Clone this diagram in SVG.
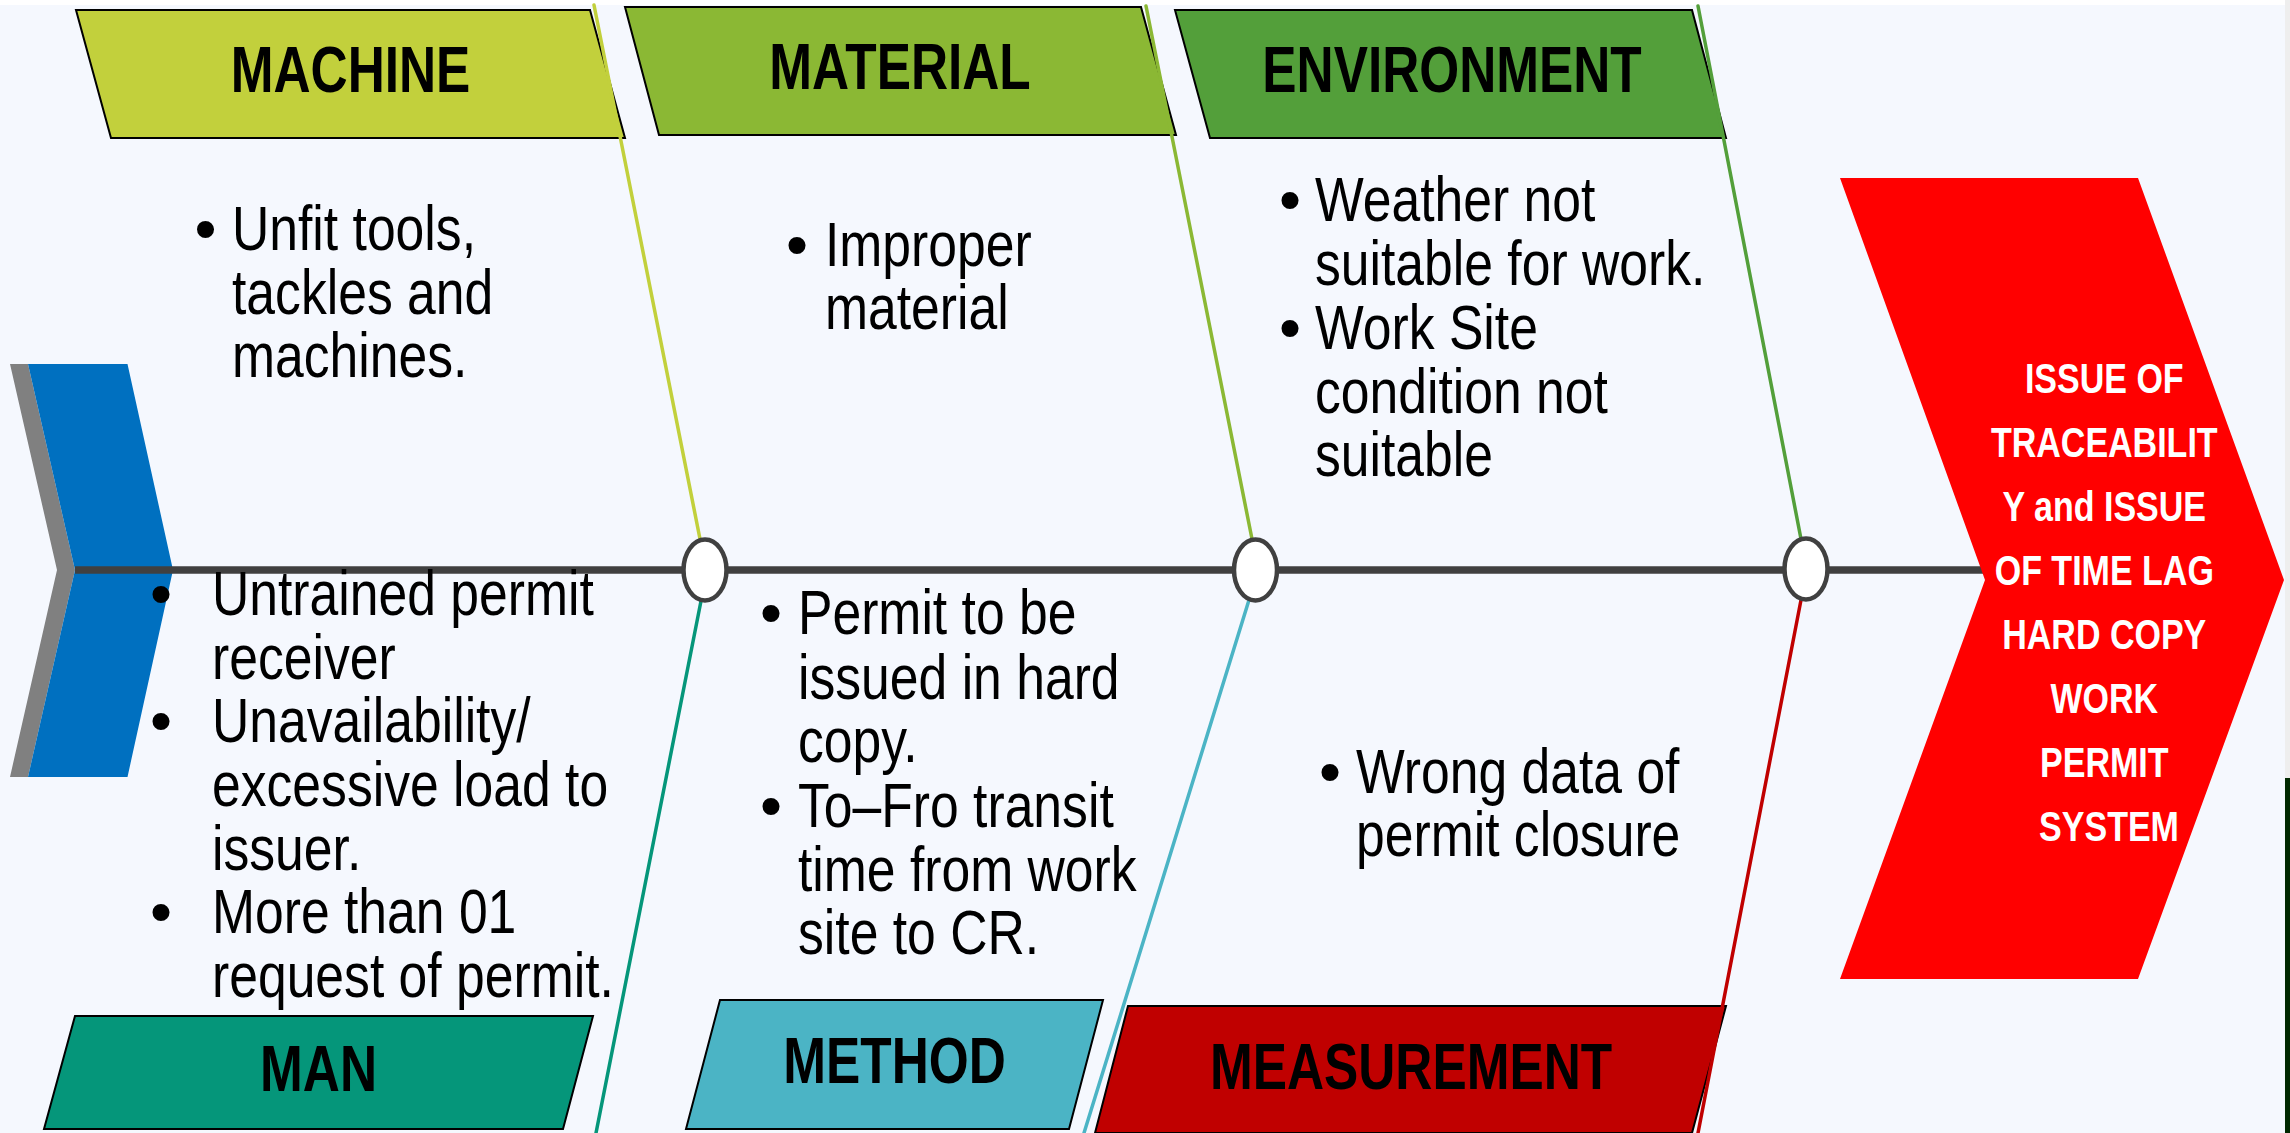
<svg xmlns="http://www.w3.org/2000/svg" width="2290" height="1133" viewBox="0 0 2290 1133">
<style>
.hdr{font-family:"Liberation Sans",Arial,sans-serif;font-weight:bold;font-size:65px;fill:#000;text-anchor:middle}
.body{font-family:"Liberation Sans",Arial,sans-serif;font-size:63px;fill:#000}
.bul{font-family:"Liberation Sans",Arial,sans-serif;font-size:63px;fill:#000;text-anchor:middle}
.eff{font-family:"Liberation Sans",Arial,sans-serif;font-weight:bold;font-size:42px;fill:#fff;text-anchor:middle}
.box{stroke:#000;stroke-width:2;stroke-linejoin:miter}
.bone{fill:none;stroke-width:3.5;stroke-linecap:round}
.joint{fill:#fff;stroke:#404040;stroke-width:4.5}
</style>
<rect x="0" y="0" width="2290" height="1133" fill="#ffffff"/>
<rect x="0" y="5" width="2285" height="1128" fill="#F5F8FE"/>
<rect x="2285" y="0" width="5" height="778" fill="#EEEEEE"/>
<rect x="2285" y="778" width="5" height="355" fill="#002800"/>

<g id="head-machine">
<polygon class="box" points="76,10 590,10 625,138 111,138" fill="#C2D03C"/>
<text class="hdr" transform="translate(350.5,0) scale(0.79,1)" x="0" y="92">MACHINE</text>
</g>
<g id="head-material">
<polygon class="box" points="625,7 1141,7 1176,135 659,135" fill="#8BB834"/>
<text class="hdr" transform="translate(900,0) scale(0.79,1)" x="0" y="89">MATERIAL</text>
</g>
<g id="head-environment">
<polygon class="box" points="1175,10 1692,10 1726,138 1210,138" fill="#539F3A"/>
<text class="hdr" transform="translate(1452,0) scale(0.79,1)" x="0" y="92">ENVIRONMENT</text>
</g>
<g id="head-man">
<polygon class="box" points="75,1016 593,1016 563,1129 44,1129" fill="#05967A"/>
<text class="hdr" transform="translate(318.5,0) scale(0.79,1)" x="0" y="1091">MAN</text>
</g>
<g id="head-method">
<polygon class="box" points="720,1000 1103,1000 1069,1129 686,1129" fill="#4BB4C5"/>
<text class="hdr" transform="translate(894.5,0) scale(0.79,1)" x="0" y="1083">METHOD</text>
</g>
<g id="head-measurement">
<polygon class="box" points="1128,1006 1726,1006 1692,1133 1095,1133" fill="#C00000"/>
<text class="hdr" transform="translate(1411,0) scale(0.79,1)" x="0" y="1089">MEASUREMENT</text>
</g>

<g id="connectors">
<line class="bone" x1="594" y1="5" x2="700" y2="539" stroke="#C2D03C"/>
<line class="bone" x1="1146" y1="6" x2="1252" y2="539" stroke="#8BB834"/>
<line class="bone" x1="1698" y1="6" x2="1801" y2="539" stroke="#539F3A"/>
<line class="bone" x1="701" y1="601" x2="596" y2="1133" stroke="#05967A"/>
<line class="bone" x1="1249" y1="600" x2="1084" y2="1133" stroke="#4BB4C5"/>
<line class="bone" x1="1801" y1="600" x2="1698" y2="1133" stroke="#C00000"/>
</g>

<g id="tail">
<polygon points="10,364 28,364 75,570 28,777 10,777 57,570" fill="#808080"/>
<polygon points="28,364 127.5,364 173,570 127.5,777 28,777 75,570" fill="#0070C0"/>
</g>

<g id="spine">
<line x1="75" y1="570" x2="1985" y2="570" stroke="#404040" stroke-width="7.5"/>
</g>

<g id="joints">
<ellipse class="joint" cx="705" cy="570" rx="21.5" ry="30.5"/>
<ellipse class="joint" cx="1255.5" cy="570" rx="21.5" ry="30.5"/>
<ellipse class="joint" cx="1806" cy="569" rx="21.5" ry="30.5"/>
</g>

<g id="effect">
<polygon points="1840,178 2138,178 2284,580 2138,979 1840,979 1985,580" fill="#FF0000"/>
<text class="eff" transform="translate(2109,0) scale(0.81,1)">
<tspan x="0" y="393">ISSUE OF</tspan>
<tspan x="0" y="457">TRACEABILIT</tspan>
<tspan x="0" y="521">Y and ISSUE</tspan>
<tspan x="0" y="585">OF TIME LAG</tspan>
<tspan x="0" y="649">HARD COPY</tspan>
<tspan x="0" y="713">WORK</tspan>
<tspan x="0" y="777">PERMIT</tspan>
<tspan x="0" y="841">SYSTEM</tspan>
</text>
</g>

<g id="causes-machine">
<text class="bul" x="205.6" y="250">•</text>
<text class="body" transform="translate(232,0) scale(0.82,1)">
<tspan x="0" y="250">Unfit tools,</tspan>
<tspan x="0" y="314">tackles and</tspan>
<tspan x="0" y="377">machines.</tspan>
</text>
</g>
<g id="causes-material">
<text class="bul" x="797" y="266">•</text>
<text class="body" transform="translate(825,0) scale(0.82,1)">
<tspan x="0" y="266">Improper</tspan>
<tspan x="0" y="329">material</tspan>
</text>
</g>
<g id="causes-environment">
<text class="bul" x="1290" y="221">•</text>
<text class="bul" x="1290" y="349">•</text>
<text class="body" transform="translate(1315,0) scale(0.82,1)">
<tspan x="0" y="221">Weather not</tspan>
<tspan x="0" y="285">suitable for work.</tspan>
<tspan x="0" y="349">Work Site</tspan>
<tspan x="0" y="413">condition not</tspan>
<tspan x="0" y="476">suitable</tspan>
</text>
</g>
<g id="causes-man">
<text class="bul" x="161" y="615">•</text>
<text class="bul" x="161" y="742">•</text>
<text class="bul" x="161" y="933">•</text>
<text class="body" transform="translate(212,0) scale(0.82,1)">
<tspan x="0" y="615">Untrained permit</tspan>
<tspan x="0" y="679">receiver</tspan>
<tspan x="0" y="742">Unavailability/</tspan>
<tspan x="0" y="806">excessive load to</tspan>
<tspan x="0" y="870">issuer.</tspan>
<tspan x="0" y="933">More than 01</tspan>
<tspan x="0" y="997">request of permit.</tspan>
</text>
</g>
<g id="causes-method">
<text class="bul" x="771" y="634">•</text>
<text class="bul" x="771" y="827">•</text>
<text class="body" transform="translate(798,0) scale(0.82,1)">
<tspan x="0" y="634">Permit to be</tspan>
<tspan x="0" y="699">issued in hard</tspan>
<tspan x="0" y="762">copy.</tspan>
<tspan x="0" y="827">To–Fro transit</tspan>
<tspan x="0" y="891">time from work</tspan>
<tspan x="0" y="954">site to CR.</tspan>
</text>
</g>
<g id="causes-measurement">
<text class="bul" x="1330" y="793">•</text>
<text class="body" transform="translate(1356,0) scale(0.82,1)">
<tspan x="0" y="793">Wrong data of</tspan>
<tspan x="0" y="856">permit closure</tspan>
</text>
</g>
</svg>
